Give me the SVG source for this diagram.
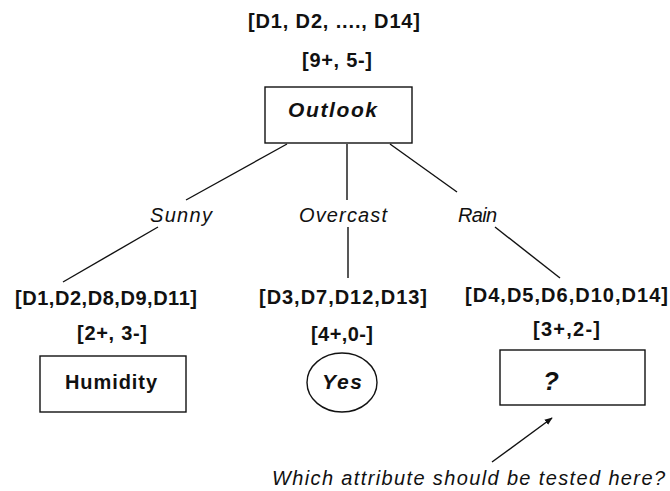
<svg xmlns="http://www.w3.org/2000/svg" width="670" height="491" viewBox="0 0 670 491">
<defs>
<style>
.b{font-family:"Liberation Sans",Arial,sans-serif;font-weight:bold;font-size:20px;fill:#111}
.bi{font-family:"Liberation Sans",Arial,sans-serif;font-weight:bold;font-style:italic;font-size:21px;fill:#111}
.i{font-family:"Liberation Sans",Arial,sans-serif;font-style:italic;font-size:20px;fill:#111}
.box{fill:#fff;stroke:#111;stroke-width:1.4}
.ln{stroke:#111;stroke-width:1.4;fill:none}
</style>
<marker id="ah" viewBox="0 0 10 10" refX="9" refY="5" markerWidth="8" markerHeight="8" orient="auto" markerUnits="userSpaceOnUse">
<path d="M0,1 L10,5 L0,9 z" fill="#111"/>
</marker>
</defs>
<rect width="670" height="491" fill="#fff"/>
<g id="connectors">
<line class="ln" x1="287" y1="144" x2="186" y2="200"/>
<line class="ln" x1="158" y1="227" x2="63" y2="282"/>
<line class="ln" x1="347" y1="144" x2="347" y2="200"/>
<line class="ln" x1="348" y1="227" x2="348" y2="278"/>
<line class="ln" x1="390" y1="144" x2="457" y2="192"/>
<line class="ln" x1="495" y1="227" x2="560" y2="278"/>
<line class="ln" x1="492" y1="462" x2="552" y2="418" marker-end="url(#ah)"/>
<text class="i" x="150" y="222" textLength="62">Sunny</text>
<text class="i" x="299" y="222" textLength="88">Overcast</text>
<text class="i" x="458" y="222" textLength="39">Rain</text>
</g>
<g id="root">
<text class="b" x="248" y="28" textLength="172">[D1, D2, ...., D14]</text>
<text class="b" x="302" y="67" textLength="70">[9+, 5-]</text>
<rect class="box" x="265" y="87" width="147" height="56"/>
<text class="bi" x="288" y="117" textLength="89">Outlook</text>
</g>
<g id="humidity">
<text class="b" x="15" y="305" textLength="182">[D1,D2,D8,D9,D11]</text>
<text class="b" x="77" y="340" textLength="70">[2+, 3-]</text>
<rect class="box" x="40" y="356" width="146" height="56"/>
<text class="b" x="65" y="389" textLength="92">Humidity</text>
</g>
<g id="yes">
<text class="b" x="259" y="304" textLength="168">[D3,D7,D12,D13]</text>
<text class="b" x="311" y="341" textLength="62">[4+,0-]</text>
<ellipse class="box" cx="342" cy="382.5" rx="35" ry="29.5"/>
<text class="bi" x="322" y="389" textLength="40">Yes</text>
</g>
<g id="unknown">
<text class="b" x="465" y="302" textLength="203">[D4,D5,D6,D10,D14]</text>
<text class="b" x="533" y="336" textLength="67">[3+,2-]</text>
<rect class="box" x="500" y="350" width="145" height="55"/>
<text class="bi" x="543" y="390" style="font-size:26px">?</text>
</g>
<g id="question">
<text class="i" x="272" y="485" textLength="393">Which attribute should be tested here?</text>
</g>
</svg>
